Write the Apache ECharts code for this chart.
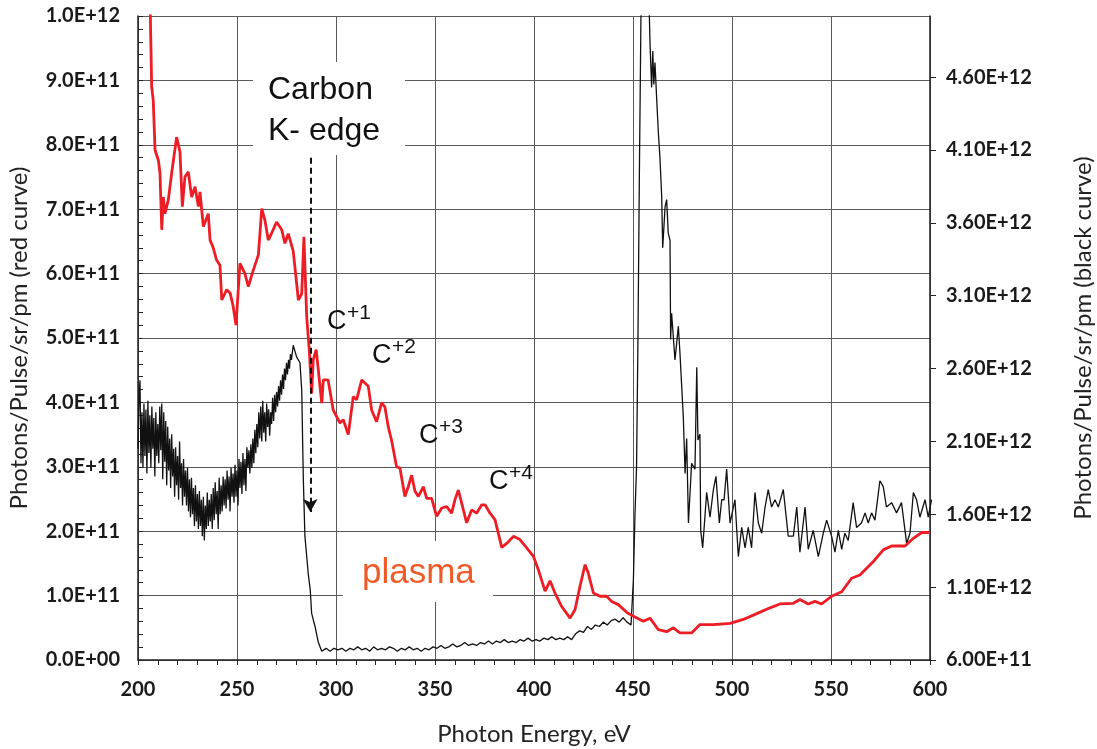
<!DOCTYPE html>
<html>
<head>
<meta charset="utf-8">
<script src="https://cdn.jsdelivr.net/npm/echarts@6/dist/echarts.min.js"></script>
<style>
  html, body { margin: 0; padding: 0; background: #ffffff; }
  #chart { width: 1097px; height: 749px; }
</style>
</head>
<body>
<div id="chart"></div>
<script>
// Photon energy axis (eV)
const energyMin = 200;
const energyMax = 600;
const energyStep = 50;

// Left axis: red curve, photons/pulse/sr/pm
const redAxisMin = 0;
const redAxisMax = 1.0e12;
const redAxisStep = 1.0e11;

// Right axis: black curve, photons/pulse/sr/pm
const blackAxisMin = 6.0e11;
const blackAxisMax = 5.02e12;
const blackAxisStep = 5.0e11;

// Carbon K-edge marker (eV) and the span of its dashed arrow (left-axis units)
const carbonKEdge = 287;
const kEdgeArrowTop = 7.8e11;
const kEdgeArrowTip = 2.3e11;

// Red curve: [energy eV, flux in units of 1E+11]
const redCurve = [
  [206, 10.4], [206.9, 8.9], [207.7, 8.69], [208.6, 7.92], [210.3, 7.76], [211.1, 7.56],
  [212, 6.68], [212.8, 7.19], [213.6, 6.93], [215.3, 7.14], [217, 7.56], [219.5, 8.12],
  [221.2, 7.89], [222.4, 7.04], [223.7, 7.5], [225.4, 7.58], [227.1, 7.19], [228.8, 7.35],
  [230.5, 7.04], [231.3, 7.27], [233, 6.73], [235.5, 6.93], [236.4, 6.52], [238, 6.4],
  [239.7, 6.21], [241.4, 6.13], [242.3, 5.59], [244.8, 5.75], [246.5, 5.7], [248, 5.5],
  [249.5, 5.2], [251.5, 6.16], [254, 6.0], [255.7, 5.8], [258.2, 6.05], [260.8, 6.29],
  [262.5, 7.01], [264.1, 6.83], [265.8, 6.52], [267.5, 6.63], [270, 6.8], [272.6, 6.68],
  [274.2, 6.47], [275.9, 6.62], [278.4, 6.35], [281, 5.59], [282.7, 5.69], [283.8, 6.57],
  [285.2, 5.33], [286.5, 4.81], [287.7, 4.14], [288.5, 4.66], [290, 4.82], [291, 4.81],
  [292.8, 3.99], [293.6, 4.35], [296, 4.35], [298.6, 3.88], [302, 3.68], [303.7, 3.73],
  [306.2, 3.5], [308.7, 4.09], [310.4, 4.04], [313, 4.35], [314.6, 4.3], [316.3, 4.25],
  [318, 3.88], [320.5, 3.7], [323, 3.99], [324.7, 3.93], [326.4, 3.62], [328, 3.42],
  [330.6, 3.0], [332.3, 2.98], [334.8, 2.54], [336.5, 2.69], [338.2, 2.87], [339.9, 2.62],
  [341.6, 2.54], [344.1, 2.69], [345.8, 2.51], [348.3, 2.51], [350.8, 2.23], [353.4, 2.36],
  [355.9, 2.38], [358.4, 2.28], [360.1, 2.49], [361.8, 2.64], [363.5, 2.43], [366, 2.13],
  [368.5, 2.33], [371, 2.28], [373.6, 2.41], [375.3, 2.41], [377.8, 2.28], [380.3, 2.18],
  [383.7, 1.75], [386.2, 1.81], [389.6, 1.92], [392.9, 1.87], [396.3, 1.74], [399.7, 1.61],
  [402.2, 1.4], [405.6, 1.07], [408.1, 1.23], [410.6, 1.04], [414, 0.83], [418.2, 0.65],
  [420.7, 0.78], [423.2, 1.14], [425.8, 1.48], [427.4, 1.35], [430, 1.04], [433.3, 0.99],
  [436.7, 0.99], [439.2, 0.91], [442.6, 0.86], [446.8, 0.74], [450.2, 0.68], [455.2, 0.6],
  [458.6, 0.65], [462.8, 0.47], [467, 0.44], [470.4, 0.5], [473.7, 0.42], [479.6, 0.42],
  [483.8, 0.55], [490.6, 0.55], [499, 0.57], [505.7, 0.63], [512.5, 0.72], [519.2, 0.81],
  [524.2, 0.87], [531, 0.88], [534.3, 0.94], [538.5, 0.87], [541.9, 0.91], [545.3, 0.87],
  [550.3, 0.99], [555.4, 1.06], [560.4, 1.27], [564.6, 1.32], [571.4, 1.53], [576.4, 1.71],
  [580.6, 1.77], [587.4, 1.77], [591.6, 1.89], [595.8, 1.98], [600, 1.98]
];

// Black curve: [energy eV, flux in units of 1E+12]
const blackCurve = [
  [200, 2.05], [200.5, 2.40], [201, 2.52], [201.5, 1.95], [202, 2.30], [202.5, 1.92], [203, 2.36],
  [203.5, 2.00], [204, 2.32], [204.5, 1.88], [205, 2.38], [205.5, 2.02], [206, 2.28], [206.5, 1.92],
  [207, 2.34], [207.5, 2.05], [208, 2.26], [208.5, 1.86], [209, 2.30], [209.5, 2.00], [210, 2.22],
  [210.5, 1.95], [211, 2.34], [211.5, 2.04], [212, 2.36], [212.5, 1.84], [213, 2.30], [213.5, 1.96],
  [214, 2.24], [214.5, 1.80], [215, 2.20], [215.5, 1.90], [216, 2.12], [216.5, 1.78], [217, 2.15],
  [217.5, 1.86], [218, 2.05], [218.5, 1.72], [219, 2.06], [219.5, 1.80], [220, 2.00], [220.5, 1.70],
  [221, 2.10], [221.5, 1.78], [222, 1.95], [222.5, 1.66], [223, 1.98], [223.5, 1.72], [224, 1.90],
  [224.5, 1.66], [225, 1.92], [225.5, 1.62], [226, 1.84], [226.5, 1.58], [227, 1.85], [227.5, 1.60],
  [228, 1.78], [228.5, 1.52], [229, 1.80], [229.5, 1.55], [230, 1.74], [230.5, 1.50], [231, 1.76],
  [231.5, 1.52], [232, 1.70], [232.5, 1.45], [233, 1.72], [233.5, 1.42], [234, 1.66], [234.5, 1.50],
  [235, 1.75], [235.5, 1.52], [236, 1.70], [236.5, 1.55], [237, 1.74], [237.5, 1.50], [238, 1.78],
  [238.5, 1.56], [239, 1.82], [239.5, 1.60], [240, 1.76], [240.5, 1.50], [241, 1.85], [241.5, 1.60],
  [242, 1.80], [242.5, 1.62], [243, 1.86], [243.5, 1.66], [244, 1.84], [244.5, 1.64], [245, 1.90],
  [245.5, 1.70], [246, 1.86], [246.5, 1.62], [247, 1.92], [247.5, 1.72], [248, 1.88], [248.5, 1.68],
  [249, 1.94], [249.5, 1.72], [250, 1.90], [250.5, 1.66], [251, 1.98], [251.5, 1.78], [252, 1.96],
  [252.5, 1.74], [253, 2.02], [253.5, 1.80], [254, 1.98], [254.5, 1.76], [255, 2.06], [255.5, 1.92],
  [256, 2.04], [256.5, 1.88], [257, 2.08], [257.5, 1.92], [258, 2.12], [258.5, 1.95], [259, 2.18],
  [259.5, 2.02], [260, 2.22], [260.5, 2.06], [261, 2.30], [261.5, 2.12], [262, 2.34], [262.5, 2.10],
  [263, 2.38], [263.5, 2.16], [264, 2.30], [264.5, 2.10], [265, 2.36], [265.5, 2.20], [266, 2.32],
  [266.5, 2.14], [267, 2.30], [267.5, 2.22], [268, 2.40], [268.5, 2.24], [269, 2.42], [269.5, 2.30],
  [270, 2.44], [270.5, 2.34], [271, 2.48], [271.5, 2.38], [272, 2.52], [272.5, 2.42], [273, 2.56],
  [273.5, 2.46], [274, 2.60], [274.5, 2.52], [275, 2.64], [275.5, 2.56], [276, 2.66], [276.5, 2.60],
  [277, 2.70], [277.5, 2.66], [278.4, 2.76], [280.1, 2.68], [281.8, 2.64], [282.7, 2.45],
  [283.2, 2.06], [283.5, 1.84], [284.3, 1.45], [286, 1.19], [287, 1.08], [287.7, 0.92],
  [289.4, 0.83], [291.1, 0.72], [292.8, 0.66],
  [295, 0.68], [297, 0.66], [299, 0.68], [301, 0.67], [303, 0.68], [305, 0.66], [307, 0.68],
  [309, 0.67], [311, 0.69], [313, 0.67], [315, 0.68], [317, 0.66], [319, 0.69], [321, 0.67],
  [323, 0.68], [325, 0.67], [327, 0.69], [329, 0.68], [331, 0.66], [333, 0.68], [335, 0.67],
  [337, 0.69], [339, 0.67], [341, 0.68], [343, 0.66], [345, 0.68], [347, 0.67], [349, 0.69],
  [351, 0.68], [353, 0.70], [355, 0.68], [357, 0.69], [359, 0.71], [361, 0.69], [363, 0.70],
  [365, 0.72], [367, 0.70], [369, 0.71], [371, 0.70], [373, 0.72], [375, 0.71], [377, 0.73],
  [379, 0.71], [381, 0.73], [383, 0.72], [385, 0.74], [387, 0.72], [389, 0.73], [391, 0.72],
  [393, 0.74], [395, 0.73], [397, 0.75], [399, 0.73], [401, 0.74], [403, 0.73], [405, 0.75],
  [407, 0.74], [409, 0.76], [411, 0.74], [413, 0.75], [415, 0.74], [417, 0.76], [419, 0.74],
  [421, 0.78], [423, 0.80], [425, 0.79], [427, 0.83], [429, 0.81], [431, 0.84], [433, 0.83],
  [435, 0.86], [437, 0.84], [439, 0.87], [441, 0.88], [443, 0.86], [445, 0.89], [447, 0.86],
  [449, 0.84], [450.2, 1.15], [451, 1.6], [451.8, 1.93], [452.5, 2.8], [453.2, 3.9],
  [454, 5.0], [455, 5.3], [457.5, 5.3],
  [458.3, 5.0], [458.6, 4.83], [459.4, 4.53], [460, 4.78], [460.5, 4.55], [461.1, 4.70],
  [462, 4.44], [462.8, 4.22], [463.6, 4.05], [464.5, 3.78], [465, 3.43], [466.2, 3.71],
  [467, 3.76], [467.8, 3.53], [468.7, 3.48], [469, 2.80], [469.5, 2.98], [471.2, 2.66],
  [472.9, 2.89], [473.7, 2.71], [475.4, 2.27], [476.3, 1.88], [477.1, 2.12], [478, 1.54],
  [479.6, 1.95], [481.3, 1.91], [482.2, 2.61], [482.8, 2.11], [483.8, 2.15], [484.2, 1.49],
  [485.2, 1.37], [487.2, 1.75], [488.9, 1.58], [490.6, 1.77], [491.9, 1.86], [493.6, 1.54],
  [494.8, 1.70], [496, 1.70], [497.3, 1.91], [499, 1.54], [501.5, 1.70], [503.2, 1.31],
  [504.9, 1.51], [506.6, 1.37], [508.2, 1.51], [509.9, 1.37], [511.6, 1.75], [513.3, 1.54],
  [515, 1.47], [516.7, 1.65], [518.3, 1.77], [520, 1.65], [521.7, 1.70], [523.4, 1.65],
  [525.9, 1.77], [528.4, 1.45], [531, 1.45], [532.7, 1.65], [534.3, 1.34], [536.9, 1.65],
  [538.5, 1.36], [541, 1.49], [543.6, 1.31], [546.1, 1.47], [547.8, 1.56], [550.3, 1.45],
  [552, 1.34], [553.7, 1.49], [555.4, 1.36], [557, 1.47], [558.7, 1.42], [561.2, 1.68],
  [562.9, 1.51], [565.4, 1.54], [567.2, 1.61], [568.8, 1.54], [570.5, 1.61], [572.2, 1.56],
  [574.7, 1.83], [576.4, 1.79], [578, 1.65], [580.6, 1.68], [583.1, 1.61], [585.6, 1.68],
  [588.2, 1.40], [589.9, 1.47], [591.6, 1.75], [593.2, 1.70], [594.9, 1.58], [597.5, 1.70],
  [599.1, 1.58], [600.8, 1.70]
];

// Ion-stage labels drawn beside the red curve
const ionLabels = ['+1', '+2', '+3', '+4'];

// Formats a number as mantissa "E+" two-digit exponent, e.g. 1.0E+12
function sciLabel(v, digits) {
  if (v === 0) return (0).toFixed(digits) + 'E+00';
  const e = Math.floor(Math.log10(Math.abs(v)) + 1e-9);
  const m = v / Math.pow(10, e);
  return m.toFixed(digits) + 'E+' + String(e).padStart(2, '0');
}

const tickFont = 'Lato';
const annoFont = '"Liberation Sans", Arial, sans-serif';
const gridColor = '#5a5a5a';
const axisColor = '#222';
const redColor = '#ee1c24';

const chart = echarts.init(document.getElementById('chart'), null, { renderer: 'canvas' });

// Annotation layout (pixels)
const ionPos = [[327, 322], [372, 356], [419, 436], [489, 482]];
const graphics = [
  { type: 'rect', shape: { x: 253, y: 62, width: 152, height: 93 }, style: { fill: '#fff' }, z: 1, silent: true },
  { type: 'rect', shape: { x: 343, y: 541, width: 150, height: 61 }, style: { fill: '#fff' }, z: 1, silent: true },
  { type: 'text', x: 268, y: 90, z: 10, style: { text: 'Carbon', font: '32px ' + annoFont, fill: '#111', verticalAlign: 'middle', textVerticalAlign: 'middle' } },
  { type: 'text', x: 268, y: 131, z: 10, style: { text: 'K- edge', font: '32px ' + annoFont, fill: '#111', verticalAlign: 'middle', textVerticalAlign: 'middle' } },
  { type: 'text', x: 362, y: 573, z: 10, style: { text: 'plasma', font: '35px ' + annoFont, fill: '#f05a28', verticalAlign: 'middle', textVerticalAlign: 'middle' } }
];
ionLabels.forEach((sup, i) => {
  const [cx, cy] = ionPos[i];
  graphics.push({ type: 'text', x: cx, y: cy, z: 10, style: { text: 'C', font: '27px ' + annoFont, fill: '#111', verticalAlign: 'middle', textVerticalAlign: 'middle' } });
  graphics.push({ type: 'text', x: cx + 20, y: cy - 8.5, z: 10, style: { text: sup, font: '21px ' + annoFont, fill: '#111', verticalAlign: 'middle', textVerticalAlign: 'middle' } });
});

chart.setOption({
  animation: false,
  backgroundColor: '#ffffff',
  grid: { left: 138, right: 167, top: 16, bottom: 89, containLabel: false, outerBoundsMode: 'none' },
  xAxis: {
    type: 'value',
    min: energyMin, max: energyMax, interval: energyStep,
    name: 'Photon Energy, eV',
    nameLocation: 'middle', nameGap: 62,
    nameTextStyle: { fontFamily: tickFont, fontSize: 24, color: '#222' },
    axisLine: { show: true, lineStyle: { color: axisColor, width: 1.5 } },
    axisTick: { show: true, inside: false, length: 5, lineStyle: { color: axisColor } },
    minorTick: { show: true, splitNumber: 5, length: 5, lineStyle: { color: axisColor } },
    axisLabel: { margin: 20, fontFamily: tickFont, fontWeight: 'bold', fontSize: 20, color: '#1a1a1a' },
    splitLine: { show: true, lineStyle: { color: gridColor, width: 1 } }
  },
  yAxis: [
    {
      type: 'value', position: 'left',
      min: redAxisMin, max: redAxisMax, interval: redAxisStep,
      name: 'Photons/Pulse/sr/pm (red curve)',
      nameLocation: 'middle', nameGap: 107,
      nameTextStyle: { fontFamily: tickFont, fontSize: 24, color: '#222' },
      axisLine: { show: true, lineStyle: { color: axisColor, width: 1.5 } },
      axisTick: { show: true, inside: true, length: 5, lineStyle: { color: axisColor } },
      minorTick: { show: true, splitNumber: 5, length: 5, lineStyle: { color: axisColor } },
      axisLabel: { margin: 18, fontFamily: tickFont, fontWeight: 'bold', fontSize: 20, color: '#1a1a1a',
                   formatter: v => sciLabel(v, 1) },
      splitLine: { show: true, lineStyle: { color: gridColor, width: 1 } }
    },
    {
      type: 'value', position: 'right',
      min: blackAxisMin, max: blackAxisMax, interval: blackAxisStep,
      name: 'Photons/Pulse/sr/pm (black curve)',
      nameLocation: 'middle', nameGap: 141,
      nameTextStyle: { fontFamily: tickFont, fontSize: 24, color: '#222' },
      axisLine: { show: true, lineStyle: { color: axisColor, width: 1.5 } },
      axisTick: { show: true, inside: false, length: 6, lineStyle: { color: axisColor } },
      axisLabel: { margin: 16, fontFamily: tickFont, fontWeight: 'bold', fontSize: 20, color: '#1a1a1a',
                   showMaxLabel: false, formatter: v => sciLabel(v, 2) },
      splitLine: { show: false }
    }
  ],
  series: [
    {
      name: 'black curve', type: 'line', yAxisIndex: 1,
      data: blackCurve.map(([e, v]) => [e, v * 1e12]),
      showSymbol: false, clip: true, z: 3,
      lineStyle: { color: '#111', width: 1.3 }
    },
    {
      name: 'red curve', type: 'line', yAxisIndex: 0,
      data: redCurve.map(([e, v]) => [e, v * 1e11]),
      showSymbol: false, clip: true, z: 4,
      lineStyle: { color: redColor, width: 2.8 },
      markLine: {
        silent: true,
        symbol: ['none', 'arrow'],
        symbolSize: [11, 13],
        label: { show: false },
        lineStyle: { color: '#111', type: [6, 4], width: 2 },
        data: [[{ coord: [carbonKEdge, kEdgeArrowTop] }, { coord: [carbonKEdge, kEdgeArrowTip] }]]
      }
    }
  ],
  graphic: graphics
});
</script>
</body>
</html>
